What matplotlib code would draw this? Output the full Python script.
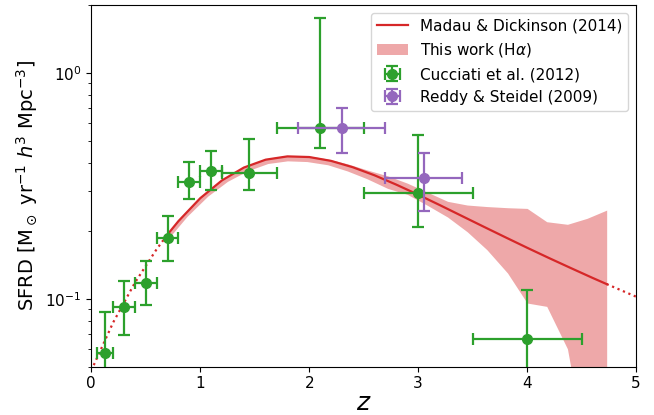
import numpy as np
import matplotlib
matplotlib.use("Agg")
import matplotlib.pyplot as plt

# Madau & Dickinson (2014) curve
md_z = [0.0, 0.2, 0.4, 0.6, 0.7, 0.8, 1.0, 1.2, 1.4, 1.6, 1.8, 2.0, 2.2, 2.4, 2.6,
        2.8, 3.0, 3.2, 3.4, 3.6, 3.8, 4.0, 4.2, 4.4, 4.6, 4.73, 4.8, 5.0]
md_sfrd = [0.0481, 0.0784, 0.1177, 0.1658, 0.1926, 0.2207, 0.2788, 0.3345, 0.3810,
           0.4129, 0.4270, 0.4242, 0.4079, 0.3823, 0.3520, 0.3200, 0.2889, 0.2596,
           0.2327, 0.2086, 0.1872, 0.1682, 0.1515, 0.1368, 0.1237, 0.1161, 0.1123, 0.1021]
md_zmin, md_zmax = 0.7, 4.73

# This work (H-alpha) band
band_z = [0.70, 0.88, 1.07, 1.25, 1.43, 1.62, 1.80, 1.98, 2.17, 2.35, 2.53, 2.72,
          2.90, 3.08, 3.27, 3.45, 3.63, 3.82, 4.00, 4.18, 4.37, 4.55, 4.73]
band_lo = [0.183, 0.232, 0.285, 0.331, 0.368, 0.397, 0.408, 0.405, 0.392, 0.368,
           0.340, 0.308, 0.290, 0.260, 0.230, 0.198, 0.165, 0.130, 0.0957, 0.0925,
           0.060, 0.020, 0.020]
band_hi = [0.195, 0.247, 0.302, 0.350, 0.390, 0.419, 0.431, 0.430, 0.416, 0.396,
           0.372, 0.350, 0.325, 0.297, 0.270, 0.260, 0.256, 0.253, 0.2512, 0.2193,
           0.2136, 0.2270, 0.2469]

# Cucciati et al. (2012)
cu_z = [0.125, 0.3, 0.5, 0.7, 0.9, 1.1, 1.45, 2.1, 3.0, 4.0]
cu_zlo = [0.05, 0.2, 0.4, 0.6, 0.8, 1.0, 1.2, 1.7, 2.5, 3.5]
cu_zhi = [0.2, 0.4, 0.6, 0.8, 1.0, 1.2, 1.7, 2.5, 3.5, 4.5]
cu_sfrd = [0.0576, 0.0915, 0.1173, 0.1864, 0.329, 0.368, 0.361, 0.572, 0.2925, 0.0664]
cu_lo = [0.040, 0.0694, 0.0934, 0.1476, 0.2754, 0.3016, 0.3016, 0.465, 0.2084, 0.030]
cu_hi = [0.087, 0.120, 0.147, 0.232, 0.402, 0.451, 0.508, 1.748, 0.5326, 0.1096]

# Reddy & Steidel (2009)
rs_z = [2.3, 3.05]
rs_zlo = [1.9, 2.7]
rs_zhi = [2.7, 3.4]
rs_sfrd = [0.572, 0.344]
rs_lo = [0.4438, 0.2444]
rs_hi = [0.698, 0.4418]

fig = plt.figure(figsize=(6.54, 4.15), dpi=100)
ax = fig.add_axes([0.1396, 0.1164, 0.833, 0.8716])

mz = np.array(md_z)
ms = np.array(md_sfrd)
lowm = mz <= md_zmin + 1e-9
midm = (mz >= md_zmin - 1e-9) & (mz <= md_zmax + 1e-9)
highm = mz >= md_zmax - 1e-9

ax.fill_between(band_z, band_lo, band_hi, color='C3', alpha=0.4, lw=0,
                label=r'This work (H$\alpha$)', zorder=1)
ax.plot(mz[midm], ms[midm], color='C3', lw=1.6, zorder=2,
        label='Madau & Dickinson (2014)')
ax.plot(mz[lowm], ms[lowm], color='C3', lw=1.6, ls=':', zorder=2)
ax.plot(mz[highm], ms[highm], color='C3', lw=1.6, ls=':', zorder=2)

def err(c, lo, hi):
    c = np.array(c); lo = np.array(lo); hi = np.array(hi)
    return np.vstack([c - lo, hi - c])

ax.errorbar(cu_z, cu_sfrd, xerr=err(cu_z, cu_zlo, cu_zhi),
            yerr=err(cu_sfrd, cu_lo, cu_hi), fmt='o', color='C2', ms=7,
            elinewidth=1.6, capsize=4, capthick=1.6, zorder=3,
            label='Cucciati et al. (2012)')
ax.errorbar(rs_z, rs_sfrd, xerr=err(rs_z, rs_zlo, rs_zhi),
            yerr=err(rs_sfrd, rs_lo, rs_hi), fmt='o', color='C4', ms=7,
            elinewidth=1.6, capsize=4, capthick=1.6, zorder=4,
            label='Reddy & Steidel (2009)')

ax.set_yscale('log')
ax.set_xlim(0, 5)
ax.set_ylim(0.05, 2)
ax.tick_params(labelsize=11)
ax.set_xlabel(r'$z$', fontsize=18, labelpad=0)
ax.set_ylabel(r'SFRD [M$_\odot$ yr$^{-1}$ $h^3$ Mpc$^{-3}$]', fontsize=14)

handles, labels = ax.get_legend_handles_labels()
order = ['Madau & Dickinson (2014)', r'This work (H$\alpha$)',
         'Cucciati et al. (2012)', 'Reddy & Steidel (2009)']
hmap = dict(zip(labels, handles))
ax.legend([hmap[l] for l in order], order, loc='upper right', fontsize=11)

fig.savefig('out.png', dpi=100)
